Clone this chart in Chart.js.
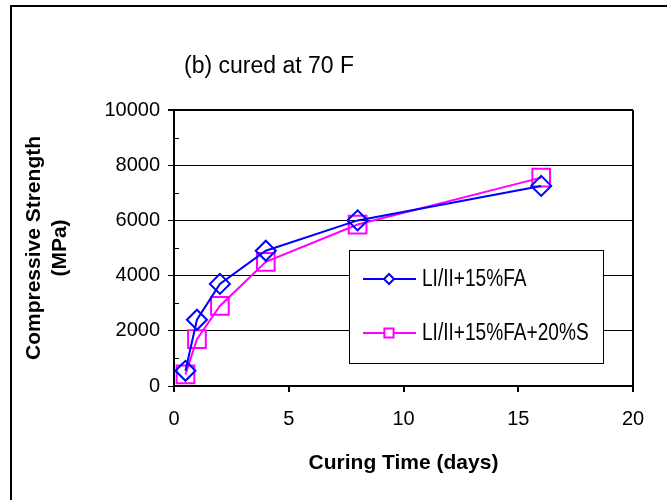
<!DOCTYPE html>
<html lang="en">
<head>
  <meta charset="UTF-8">
  <title>Compressive Strength - cured at 70 F</title>
  <script src="https://cdn.jsdelivr.net/npm/chart.js"></script>
  <style>
    body { margin: 0; background: #fff; }
  </style>
</head>
<body>
  <canvas id="myChart" width="667" height="500"></canvas>

<script>
  // data
  const days = [0.5, 1, 2, 4, 8, 16];
  const strengthFA = [550, 2400, 3700, 4900, 6000, 7250];
  const strengthFAS = [420, 1700, 2900, 4500, 5850, 7550];
  const seriesNames = ['LI/II+15%FA', 'LI/II+15%FA+20%S'];
  const xTicks = [0, 5, 10, 15, 20];
  const yTicks = [0, 2000, 4000, 6000, 8000, 10000];
  const yMinorTicks = [1000, 3000, 5000, 7000, 9000];
  const chartTitle = '(b) cured at 70 F';

  const fontFamily = '"Liberation Sans", Arial, sans-serif';
  Chart.defaults.font.family = fontFamily;
  Chart.defaults.color = '#000';

  function toPoints(ys) {
    return days.map((d, i) => ({ x: d, y: ys[i] }));
  }

  // frame, title, minor ticks and the boxed legend
  const extras = {
    id: 'extras',
    beforeDraw(chart) {
      const c = chart.ctx;
      c.save();
      c.fillStyle = '#fff';
      c.fillRect(0, 0, chart.width, chart.height);
      c.strokeStyle = '#000';
      c.lineWidth = 2;
      c.beginPath();
      c.moveTo(11, chart.height);
      c.lineTo(11, 6);
      c.lineTo(chart.width, 6);
      c.stroke();
      c.font = '23px ' + fontFamily;
      c.fillStyle = '#000';
      c.textBaseline = 'middle';
      c.fillText(chartTitle, 184, 67);
      c.restore();
    },
    afterDraw(chart) {
      const c = chart.ctx;
      const y = chart.scales.y;
      c.save();
      c.strokeStyle = '#000';
      c.lineWidth = 1;
      yMinorTicks.forEach(v => {
        const py = Math.round(y.getPixelForValue(v)) + 0.5;
        c.beginPath();
        c.moveTo(y.right, py);
        c.lineTo(y.right + 5, py);
        c.stroke();
      });

      // legend box
      c.fillStyle = '#fff';
      c.fillRect(349, 250, 254, 113);
      c.strokeRect(349.5, 250.5, 254, 113);
      c.textBaseline = 'middle';
      chart.data.datasets.forEach((ds, i) => {
        const ly = 279 + i * 54;
        c.strokeStyle = ds.borderColor;
        c.lineWidth = 2;
        c.beginPath();
        c.moveTo(363, ly);
        c.lineTo(416, ly);
        c.stroke();
        c.fillStyle = '#fff';
        c.lineWidth = ds.pointBorderWidth;
        Chart.helpers.drawPoint(c, {
          pointStyle: ds.pointStyle,
          radius: i === 0 ? 5 : 6.5,
          rotation: 0,
          borderWidth: ds.pointBorderWidth
        }, 389, ly);
        // narrow, tall lettering like the original
        c.save();
        c.translate(422, ly + 1);
        c.scale(0.83, 1);
        c.font = '23px ' + fontFamily;
        c.fillStyle = '#000';
        c.fillText(ds.label, 0, 0);
        c.restore();
      });
      c.restore();
    }
  };

  const ctx = document.getElementById('myChart');

  new Chart(ctx, {
    type: 'scatter',
    data: {
      datasets: [{
        label: seriesNames[0],
        data: toPoints(strengthFA),
        showLine: true,
        borderColor: '#0000ff',
        borderWidth: 2,
        pointStyle: 'rectRot',
        pointRadius: 10,
        pointBorderWidth: 2,
        pointBackgroundColor: 'transparent',
        pointBorderColor: '#0000ff',
        clip: false
      }, {
        label: seriesNames[1],
        data: toPoints(strengthFAS),
        showLine: true,
        borderColor: '#ff00ff',
        borderWidth: 2,
        pointStyle: 'rect',
        pointRadius: 12.5,
        pointBorderWidth: 2,
        pointBackgroundColor: 'transparent',
        pointBorderColor: '#ff00ff',
        clip: false
      }]
    },
    options: {
      responsive: false,
      animation: false,
      devicePixelRatio: 1,
      layout: { padding: { left: 10, top: 110, right: 34, bottom: 10 } },
      plugins: {
        legend: { display: false },
        tooltip: { enabled: false }
      },
      scales: {
        x: {
          type: 'linear',
          min: 0,
          max: 20,
          afterFit: s => { s.height = 104; },
          afterBuildTicks: s => { s.ticks = xTicks.map(v => ({ value: v })); },
          border: { color: '#000', width: 2 },
          grid: {
            color: c => (c.tick && c.tick.value === 20 ? '#000' : 'transparent'),
            lineWidth: 2,
            tickColor: '#000',
            tickLength: 6
          },
          ticks: { font: { size: 20 }, padding: 15, maxRotation: 0, callback: v => String(v) },
          title: {
            display: true,
            text: 'Curing Time (days)',
            font: { size: 21, weight: 'bold' },
            padding: { top: 0, bottom: 14 }
          }
        },
        y: {
          min: 0,
          max: 10000,
          afterFit: s => { s.width = 164; },
          afterBuildTicks: s => { s.ticks = yTicks.map(v => ({ value: v })); },
          border: { color: '#000', width: 2 },
          grid: {
            color: '#000',
            lineWidth: c => (c.tick && c.tick.value === 10000 ? 2 : 1),
            tickColor: '#000',
            tickLength: 6
          },
          ticks: { font: { size: 20 }, padding: 8, callback: v => String(v) },
          title: {
            display: true,
            text: ['Compressive Strength', '(MPa)'],
            font: { size: 21, weight: 'bold', lineHeight: 1.2 },
            padding: { top: 12, bottom: 0 }
          }
        }
      }
    },
    plugins: [extras]
  });
</script>
</body>
</html>
